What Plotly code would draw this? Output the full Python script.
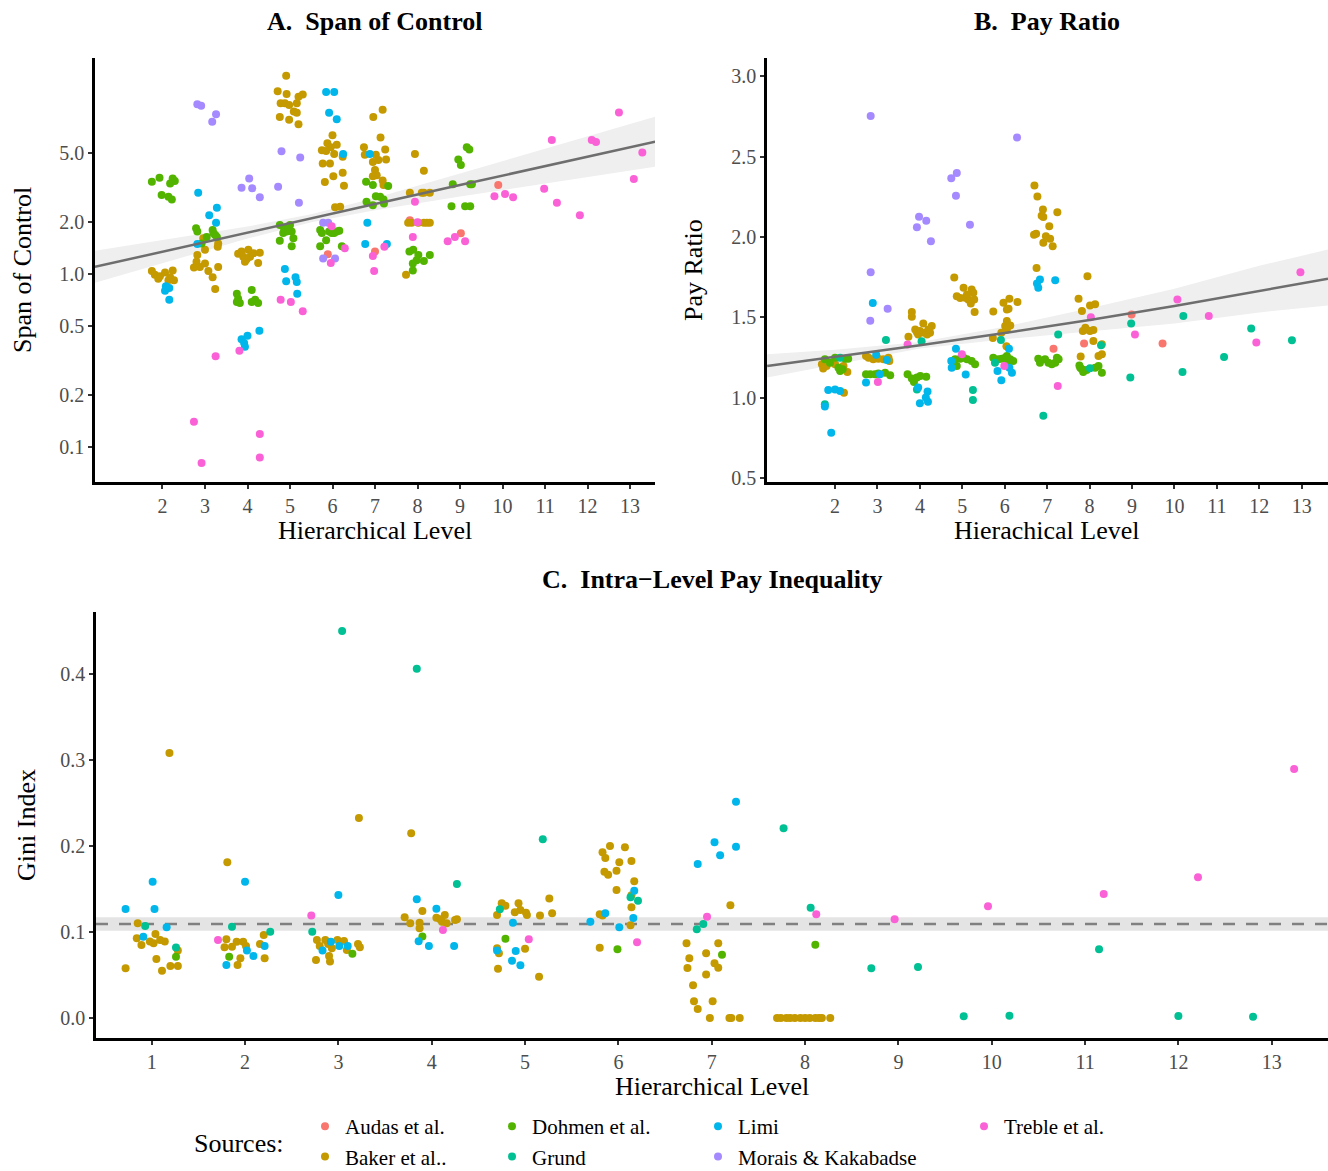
import plotly.graph_objects as go

W, H = 1328, 1171
FONT = "Liberation Serif"

SOURCES = ["Audas et al.", "Baker et al..", "Dohmen et al.", "Grund", "Limi",
           "Morais & Kakabadse", "Treble et al."]
COLORS = ["#F8766D", "#C49A00", "#53B400", "#00C094", "#00B6EB", "#A58AFF", "#FB61D7"]

# ---------------- Panel A: Span of Control ----------------
A_audas_x = [5.89, 7.00, 7.82, 9.02, 9.90]
A_audas_y = [1.30, 1.35, 2.05, 1.72, 3.27]

A_baker_x = [1.75, 1.82, 1.90, 1.94, 2.06, 2.18, 2.24, 2.27, 2.14,
             2.96, 3.00, 2.82, 2.80, 2.74, 2.88, 3.00, 3.08, 3.18, 3.24, 3.31, 3.30, 3.31,
             3.78, 3.86, 3.90, 3.94, 4.02, 4.06, 4.14, 4.25, 4.29, 3.98,
             4.91, 4.71, 4.92, 4.78, 4.88, 4.98, 5.16, 5.20, 5.30, 5.09, 5.16, 4.76, 4.98, 5.20,
             6.00, 5.88, 6.10, 5.75, 5.85, 5.96, 6.04, 6.24, 5.77, 5.94, 6.02, 5.82, 6.24, 6.27, 6.06, 6.18,
             6.96, 7.18, 7.13, 6.74, 6.76, 7.02, 7.24, 6.95, 7.08, 7.26, 7.00, 7.04, 6.95, 7.18, 7.20,
             7.94, 8.15, 7.82, 8.10, 8.15, 8.29, 7.78, 7.86, 8.02, 8.15, 8.22, 8.29, 7.73]
A_baker_y = [1.04, 0.99, 0.94, 0.97, 1.02, 0.96, 1.05, 0.92, 0.92,
             1.61, 1.38, 1.29, 1.18, 1.09, 1.10, 1.15, 1.04, 0.96, 0.82, 1.10, 1.44, 1.50,
             1.31, 1.35, 1.26, 1.18, 1.38, 1.26, 1.32, 1.16, 1.33, 1.22,
             14.0, 11.4, 11.0, 9.7, 9.7, 9.5, 9.7, 10.6, 10.9, 8.7, 8.55, 8.1, 7.8, 7.35,
             6.35, 5.7, 5.6, 5.2, 5.14, 5.4, 4.94, 4.76, 4.36, 4.36, 3.68, 3.40, 3.85, 3.24, 2.43, 2.45,
             8.1, 8.9, 6.16, 5.4, 4.9, 4.9, 5.25, 4.45, 4.57, 4.6, 3.99, 3.73, 3.68, 3.47, 3.27,
             4.94, 3.96, 2.95, 2.95, 2.95, 2.95, 1.98, 1.98, 1.98, 1.98, 1.98, 1.98, 0.99]

A_dohmen_x = [1.75, 1.93, 2.18, 2.24, 2.29, 1.98, 2.14, 2.22,
              2.79, 2.82, 2.92, 3.04, 3.18, 3.24, 3.28, 3.20,
              3.75, 3.78, 3.75, 3.82, 4.10, 4.10, 4.18, 4.25,
              4.76, 4.86, 4.96, 5.00, 5.04, 5.08, 4.76, 5.04, 4.92, 4.84,
              5.71, 5.75, 5.85, 5.71, 5.92, 6.10, 6.16, 6.22, 6.04, 5.98,
              6.79, 6.95, 7.31, 7.02, 7.12, 7.20, 7.21, 6.80, 6.95,
              7.81, 7.90, 8.02, 7.89, 7.98, 8.15, 8.29, 7.89,
              8.96, 9.02, 9.16, 9.22, 8.83, 9.24, 9.28, 8.80, 9.12, 9.24]
A_dohmen_y = [3.42, 3.60, 3.34, 3.57, 3.45, 2.86, 2.80, 2.70,
              1.84, 1.76, 1.50, 1.64, 1.80, 1.68, 1.64, 1.72,
              0.77, 0.72, 0.69, 0.68, 0.81, 0.69, 0.71, 0.68,
              1.92, 1.84, 1.80, 1.92, 1.76, 1.61, 1.56, 1.45, 1.76, 1.73,
              1.80, 1.73, 1.57, 1.45, 1.76, 1.76, 1.78, 1.45, 1.73, 1.73,
              3.42, 3.27, 3.23, 2.82, 2.80, 2.70, 2.56, 2.62, 2.50,
              1.35, 1.38, 1.29, 1.15, 1.20, 1.19, 1.29, 1.05,
              4.6, 4.27, 5.4, 5.25, 3.3, 3.3, 3.3, 2.47, 2.47, 2.47]

A_limi_x = [2.08, 2.16, 2.06, 2.16, 2.84, 3.10, 3.28, 3.26, 2.82,
            3.86, 4.00, 3.94, 3.92, 4.28, 4.88, 4.91, 5.13, 5.16, 5.17,
            5.85, 6.04, 5.92, 6.10, 6.25, 6.88, 6.82, 6.77, 7.28]
A_limi_y = [0.85, 0.83, 0.80, 0.71, 2.95, 2.19, 2.42, 1.98, 1.49,
            0.42, 0.44, 0.38, 0.40, 0.47, 1.07, 0.91, 0.96, 0.90, 0.77,
            11.3, 11.3, 8.55, 7.86, 4.94, 4.94, 1.98, 1.49, 1.49]

A_morais_x = [2.82, 2.91, 3.17, 3.26, 3.86, 4.04, 4.11, 4.29,
              4.80, 5.24, 4.72, 5.21, 5.78, 5.90, 5.78, 6.06]
A_morais_y = [9.6, 9.4, 7.6, 8.4, 3.15, 3.57, 3.13, 2.78,
              5.13, 4.72, 3.2, 2.58, 1.98, 1.98, 1.23, 1.23]

A_treble_x = [3.25, 2.74, 2.92, 3.81, 4.29, 4.29, 4.78, 5.02, 5.30, 5.98, 5.96, 6.29,
              6.95, 6.98, 7.22, 7.94, 8.00, 7.89, 8.71, 8.88, 9.12, 9.81, 10.06, 10.25,
              11.16, 10.98, 11.28, 11.82, 12.10, 12.20, 12.74, 13.09, 13.29]
A_treble_y = [0.335, 0.14, 0.081, 0.36, 0.119, 0.087, 0.71, 0.69, 0.61, 1.89, 1.16, 1.41,
              1.27, 1.04, 1.44, 2.62, 1.99, 1.64, 1.55, 1.64, 1.55, 2.82, 2.90, 2.78,
              5.95, 3.11, 2.58, 2.19, 5.95, 5.8, 8.6, 3.54, 5.05]

A_fit_x = [0.41, 2, 4, 5.5, 7, 9, 11, 13.59]
A_fit_y = [1.10, 1.349, 1.738, 2.10, 2.54, 3.27, 4.21, 5.82]
A_fit_lo = [0.891, 1.161, 1.604, 1.992, 2.34, 2.805, 3.345, 4.17]
A_fit_hi = [1.364, 1.568, 1.882, 2.215, 2.754, 3.81, 5.30, 8.11]

# ---------------- Panel B: Pay Ratio ----------------
B_audas_x = [7.15, 7.87, 8.99, 9.72]
B_audas_y = [1.304, 1.337, 1.517, 1.337]

B_baker_x = [1.69, 1.72, 1.80, 2.00, 2.12, 2.20, 2.29, 2.21,
             2.73, 2.79, 2.90, 3.02, 3.14, 3.26, 3.28,
             3.81, 3.81, 3.73, 3.89, 3.93, 4.00, 4.08, 4.10, 4.17, 4.24, 4.28, 3.96, 4.20,
             4.81, 5.03, 4.87, 4.95, 5.07, 5.14, 5.22, 5.26, 5.28, 5.20, 5.29, 5.11,
             5.73, 5.72, 5.92, 5.97, 6.11, 6.05, 6.09, 6.30, 6.05, 6.01, 6.13, 6.04, 6.05,
             6.70, 6.77, 6.90, 7.24, 6.87, 6.91, 7.05, 6.74, 6.69, 6.97, 6.91, 7.07, 7.13, 6.75,
             7.95, 7.74, 7.82, 8.01, 8.13, 7.90, 7.84, 8.01, 8.09, 8.09, 8.29, 8.21, 8.29, 7.79, 7.92]
B_baker_y = [1.207, 1.18, 1.196, 1.207, 1.186, 1.196, 1.159, 1.03,
             1.258, 1.248, 1.238, 1.242, 1.238, 1.248, 1.227,
             1.532, 1.503, 1.379, 1.424, 1.407, 1.414, 1.461, 1.404, 1.393, 1.404, 1.445, 1.393, 1.424,
             1.747, 1.683, 1.631, 1.619, 1.621, 1.611, 1.673, 1.652, 1.611, 1.586, 1.532, 1.642,
             1.536, 1.37, 1.404, 1.59, 1.615, 1.548, 1.553, 1.594, 1.476, 1.445, 1.449, 1.32, 1.424,
             2.32, 2.252, 2.17, 2.153, 2.132, 2.124, 2.066, 2.019, 2.014, 2.004, 1.963, 1.988, 1.942, 1.807,
             1.755, 1.615, 1.538, 1.573, 1.58, 1.435, 1.414, 1.414, 1.42, 1.352, 1.331, 1.258, 1.269, 1.255, 1.424]

B_dohmen_x = [1.76, 1.88, 2.00, 2.08, 2.18, 2.24, 2.31, 2.12,
              2.73, 2.83, 2.94, 3.02, 3.18, 3.30,
              3.71, 3.81, 3.86, 3.93, 4.01, 4.15, 3.85,
              4.83, 4.95, 5.03, 5.11, 5.22, 5.30, 4.87,
              5.73, 5.85, 5.93, 6.01, 6.13, 6.20, 6.05, 6.09,
              6.79, 6.83, 6.95, 7.03, 7.11, 7.19, 7.27, 7.23,
              7.76, 7.82, 7.85, 7.93, 8.13, 8.21, 8.29, 7.78]
B_dohmen_y = [1.238, 1.217, 1.248, 1.186, 1.176, 1.242, 1.242, 1.165,
              1.145, 1.145, 1.145, 1.15, 1.155, 1.138,
              1.145, 1.118, 1.097, 1.124, 1.134, 1.13, 1.114,
              1.238, 1.242, 1.248, 1.238, 1.227, 1.207, 1.196,
              1.248, 1.238, 1.242, 1.248, 1.238, 1.227, 1.258, 1.217,
              1.242, 1.217, 1.238, 1.217, 1.207, 1.217, 1.238, 1.248,
              1.2, 1.176, 1.159, 1.171, 1.186, 1.196, 1.155, 1.186]

B_grund_x = [2.12, 1.76, 3.20, 4.04, 3.93, 5.25, 5.25, 5.91, 5.77, 7.26, 6.91,
             8.27, 8.01, 8.98, 8.96, 10.21, 10.19, 11.17, 11.81, 12.77]
B_grund_y = [1.248, 0.958, 1.358, 1.35, 1.05, 1.047, 0.985, 1.358, 1.217, 1.393, 0.886,
             1.325, 1.182, 1.461, 1.124, 1.507, 1.159, 1.252, 1.43, 1.356]

B_limi_x = [1.84, 2.00, 2.12, 1.76, 1.91, 2.89, 2.97, 3.22, 2.73, 3.06,
            3.96, 4.18, 4.00, 4.19, 4.14, 4.85, 4.74, 4.75, 5.08,
            6.10, 5.83, 5.92, 6.17, 6.11, 6.83, 6.76, 6.79, 7.19]
B_limi_y = [1.047, 1.05, 1.04, 0.944, 0.78, 1.588, 1.267, 1.234, 1.093, 1.145,
            1.062, 1.037, 0.965, 0.973, 1.0, 1.304, 1.227, 1.186, 1.143,
            1.304, 1.165, 1.107, 1.155, 1.186, 1.735, 1.71, 1.683, 1.73]

B_morais_x = [2.84, 2.84, 2.83, 3.24, 3.98, 4.15, 3.93, 4.26, 4.74, 4.87, 4.85, 5.18, 6.29]
B_morais_y = [2.753, 1.78, 1.478, 1.553, 2.126, 2.10, 2.06, 1.973, 2.366, 2.398, 2.257, 2.076, 2.619]

B_treble_x = [3.01, 3.71, 4.99, 5.99, 7.25, 8.03, 9.07, 10.07, 10.81, 11.93, 12.97]
B_treble_y = [1.097, 1.33, 1.269, 1.196, 1.072, 1.50, 1.393, 1.61, 1.507, 1.342, 1.78]

B_fit_x = [0.40, 2, 4, 6, 8, 10, 12, 13.62]
B_fit_y = [1.196, 1.252, 1.325, 1.402, 1.483, 1.570, 1.661, 1.739]
B_fit_lo = [1.124, 1.207, 1.305, 1.363, 1.410, 1.461, 1.53, 1.573]
B_fit_hi = [1.269, 1.297, 1.345, 1.441, 1.556, 1.678, 1.82, 1.921]

# ---------------- Panel C: Intra-level pay inequality ----------------
C_baker_x = [1.19, 0.85, 0.84, 0.89, 0.98, 1.04, 1.02, 1.09, 1.14, 1.05, 0.72, 1.11, 1.20, 1.28, 1.28,
             1.81, 1.80, 1.78, 1.86, 1.91, 1.98, 2.01, 1.95, 1.92, 2.20, 2.16, 2.21,
             3.22, 2.77, 2.86, 2.89, 2.80, 2.93, 2.99, 3.06, 3.09, 3.21, 3.23, 2.90, 2.91, 2.76,
             3.78, 3.71, 3.77, 3.87, 3.87, 3.90, 4.05, 4.11, 4.14, 4.16, 4.25, 4.27, 4.09,
             4.75, 4.79, 4.70, 4.89, 4.93, 4.95, 5.01, 5.02, 5.16, 5.26, 5.29, 4.70, 4.72, 4.71, 5.00, 5.15,
             5.91, 5.83, 6.07, 5.86, 6.01, 6.14, 5.85, 5.89, 5.98, 5.98, 6.17, 6.14, 6.14, 5.80, 5.83, 6.13, 5.80,
             7.20, 6.73, 7.07, 6.94, 6.76, 6.74, 7.03, 7.07, 6.94, 6.80, 6.81, 7.01, 6.85, 6.98, 7.19, 7.21, 7.30,
             7.70, 7.74, 7.80, 7.84, 7.89, 7.95, 8.00, 8.05, 8.11, 8.15, 8.18, 8.27]
C_baker_y = [0.308, 0.110, 0.0927, 0.0849, 0.0888, 0.0977, 0.0868, 0.0907, 0.0888, 0.0686, 0.0578, 0.055, 0.0605, 0.0605, 0.0783,
             0.181, 0.0915, 0.0822, 0.0829, 0.0887, 0.0887, 0.0837, 0.0694, 0.0616, 0.0965, 0.086, 0.0694,
             0.2326, 0.0907, 0.0907, 0.086, 0.0837, 0.081, 0.0907, 0.0895, 0.0791, 0.086, 0.0822, 0.0721, 0.0655, 0.0674,
             0.2147, 0.117, 0.110, 0.1108, 0.1043, 0.1244, 0.1166, 0.112, 0.1198, 0.110, 0.114, 0.1147, 0.1147,
             0.1334, 0.1306, 0.1198, 0.1229, 0.1334, 0.1256, 0.1224, 0.1198, 0.119, 0.139, 0.1217, 0.081, 0.0752, 0.0573, 0.0806, 0.048,
             0.2, 0.1926, 0.1985, 0.186, 0.181, 0.1826, 0.1701, 0.1666, 0.1713, 0.1488, 0.1589, 0.1428, 0.1288, 0.1206, 0.119, 0.1078, 0.0817,
             0.131, 0.0869, 0.0869, 0.0752, 0.0694, 0.0581, 0.0636, 0.0585, 0.0504, 0.038, 0.0194, 0.0194, 0.0105, 0, 0, 0, 0,
             0, 0, 0, 0, 0, 0, 0, 0, 0, 0, 0, 0]

C_dohmen_x = [1.26, 1.83, 3.15, 3.90, 4.79, 5.99, 7.11, 8.11]
C_dohmen_y = [0.0713, 0.0713, 0.0748, 0.0946, 0.0922, 0.0799, 0.0736, 0.0852]

C_grund_x = [0.93, 1.26, 1.86, 2.27, 2.72, 3.04, 4.27, 3.84, 4.73, 5.19, 6.13, 6.21,
             6.91, 6.84, 7.77, 8.06, 8.71, 9.21, 9.70, 10.19, 11.15, 12.00, 12.80]
C_grund_y = [0.107, 0.0818, 0.106, 0.1003, 0.1003, 0.45, 0.1558, 0.406, 0.1264, 0.2078, 0.1403, 0.1364,
             0.1093, 0.1031, 0.2205, 0.128, 0.0578, 0.0593, 0.002, 0.0027, 0.0799, 0.0023, 0.0015]

C_limi_x = [0.72, 1.01, 1.03, 0.91, 1.16, 2.00, 1.80, 2.02, 2.09, 2.21,
            3.00, 2.92, 2.83, 3.01, 3.10, 3.84, 4.05, 3.86, 3.97, 4.24,
            4.87, 4.70, 4.90, 4.86, 4.95, 5.70, 5.86, 6.01, 6.17, 6.16,
            7.26, 7.03, 7.09, 7.26, 6.85]
C_limi_y = [0.1267, 0.1585, 0.1267, 0.0945, 0.1055, 0.1585, 0.0616, 0.0783, 0.0721, 0.0837,
            0.143, 0.0887, 0.0783, 0.0837, 0.0837, 0.138, 0.127, 0.0892, 0.0837, 0.0837,
            0.1108, 0.0783, 0.0779, 0.0666, 0.0613, 0.112, 0.1217, 0.1055, 0.148, 0.1163,
            0.2515, 0.2043, 0.1892, 0.1992, 0.1791]

C_treble_x = [1.71, 2.71, 4.12, 5.04, 6.20, 6.95, 8.12, 8.96, 9.96, 11.20, 12.21, 13.24]
C_treble_y = [0.0907, 0.119, 0.1023, 0.0915, 0.088, 0.1178, 0.1205, 0.1148, 0.130, 0.144, 0.1636, 0.2895]

C_mean = 0.1093
C_mean_lo = 0.1015
C_mean_hi = 0.117

# ---------------- Tick labels ----------------
A_yticks = [0.1, 0.2, 0.5, 1, 2, 5]
A_yticklabels = ["0.1", "0.2", "0.5", "1.0", "2.0", "5.0"]
AB_xticks = list(range(2, 14))
B_yticks = [0.5, 1.0, 1.5, 2.0, 2.5, 3.0]
C_xticks = list(range(1, 14))
C_yticks = [0.0, 0.1, 0.2, 0.3, 0.4]

panel_A = {0: (A_audas_x, A_audas_y), 1: (A_baker_x, A_baker_y), 2: (A_dohmen_x, A_dohmen_y),
           4: (A_limi_x, A_limi_y), 5: (A_morais_x, A_morais_y), 6: (A_treble_x, A_treble_y)}
panel_B = {0: (B_audas_x, B_audas_y), 1: (B_baker_x, B_baker_y), 2: (B_dohmen_x, B_dohmen_y),
           3: (B_grund_x, B_grund_y), 4: (B_limi_x, B_limi_y), 5: (B_morais_x, B_morais_y),
           6: (B_treble_x, B_treble_y)}
panel_C = {1: (C_baker_x, C_baker_y), 2: (C_dohmen_x, C_dohmen_y), 3: (C_grund_x, C_grund_y),
           4: (C_limi_x, C_limi_y), 6: (C_treble_x, C_treble_y)}

LEGEND_OF = {0: "legend", 1: "legend", 2: "legend2", 3: "legend2", 4: "legend3", 5: "legend3", 6: "legend4"}

fig = go.Figure()

BAND = "#efefef"
FITLINE = dict(color="#6e6e6e", width=2.5)

# confidence bands (under points)
fig.add_trace(go.Scatter(x=A_fit_x + A_fit_x[::-1], y=A_fit_hi + A_fit_lo[::-1], fill="toself",
                         fillcolor=BAND, line=dict(width=0), mode="lines", hoverinfo="skip",
                         showlegend=False, xaxis="x", yaxis="y"))
fig.add_trace(go.Scatter(x=B_fit_x + B_fit_x[::-1], y=B_fit_hi + B_fit_lo[::-1], fill="toself",
                         fillcolor=BAND, line=dict(width=0), mode="lines", hoverinfo="skip",
                         showlegend=False, xaxis="x2", yaxis="y2"))

shown = set()
for panel, xa, ya in [(panel_A, "x", "y"), (panel_B, "x2", "y2"), (panel_C, "x3", "y3")]:
    for i in range(len(SOURCES)):
        if i not in panel:
            continue
        xs, ys = panel[i]
        fig.add_trace(go.Scatter(
            x=xs, y=ys, mode="markers", name=SOURCES[i],
            marker=dict(color=COLORS[i], size=8, line=dict(width=0)),
            legendgroup=SOURCES[i], legend=LEGEND_OF[i],
            showlegend=(i not in shown), xaxis=xa, yaxis=ya))
        shown.add(i)

# fitted lines on top
fig.add_trace(go.Scatter(x=A_fit_x, y=A_fit_y, mode="lines", line=FITLINE, hoverinfo="skip",
                         showlegend=False, xaxis="x", yaxis="y"))
fig.add_trace(go.Scatter(x=B_fit_x, y=B_fit_y, mode="lines", line=FITLINE, hoverinfo="skip",
                         showlegend=False, xaxis="x2", yaxis="y2"))

def px2x(p):
    return p / W

def py2y(p):
    return 1 - p / H

tickfont = dict(family=FONT, size=20, color="#4d4d4d")
axis_common = dict(showline=True, linecolor="black", linewidth=2.5, showgrid=False, zeroline=False,
                   ticks="outside", ticklen=4, tickwidth=2, tickcolor="#333333", tickfont=tickfont,
                   mirror=False)

fig.update_layout(
    width=W, height=H, autosize=False, margin=dict(l=0, r=0, t=0, b=0, autoexpand=False),
    paper_bgcolor="white", plot_bgcolor="white",
    font=dict(family=FONT, color="black"),
    xaxis=dict(domain=[px2x(95), px2x(655)], range=[0.412, 13.588], tickvals=AB_xticks,
               anchor="y", **axis_common),
    yaxis=dict(domain=[py2y(482), py2y(58)], type="log", range=[-1.202, 1.249],
               tickvals=A_yticks, ticktext=A_yticklabels, anchor="x", **axis_common),
    xaxis2=dict(domain=[px2x(767), 1.0], range=[0.396, 13.62], tickvals=AB_xticks,
                anchor="y2", **axis_common),
    yaxis2=dict(domain=[py2y(482), py2y(58)], range=[0.474, 3.114], tickvals=B_yticks,
                tickformat=".1f", anchor="x2", **axis_common),
    xaxis3=dict(domain=[px2x(96), 1.0], range=[0.403, 13.603], tickvals=C_xticks,
                anchor="y3", **axis_common),
    yaxis3=dict(domain=[py2y(1038), py2y(612)], range=[-0.0233, 0.472], tickvals=C_yticks,
                tickformat=".1f", anchor="x3", **axis_common),
    shapes=[
        dict(type="rect", xref="x3 domain", x0=0, x1=1, yref="y3", y0=C_mean_lo, y1=C_mean_hi,
             fillcolor="#e4e4e4", line=dict(width=0), layer="below"),
        dict(type="line", xref="x3 domain", x0=0, x1=1, yref="y3", y0=C_mean, y1=C_mean,
             line=dict(color="#808080", width=2.5, dash="12px,11px"), layer="below"),
    ],
)

legend_common = dict(orientation="v", xanchor="left", yanchor="top", bgcolor="rgba(0,0,0,0)",
                     font=dict(family=FONT, size=21, color="black"), tracegroupgap=0,
                     itemclick=False, itemdoubleclick=False)
LEG_TOP = 1106
fig.update_layout(
    legend=dict(x=px2x(345 - 40), y=py2y(LEG_TOP), **legend_common),
    legend2=dict(x=px2x(532 - 40), y=py2y(LEG_TOP), **legend_common),
    legend3=dict(x=px2x(738 - 40), y=py2y(LEG_TOP), **legend_common),
    legend4=dict(x=px2x(1004 - 40), y=py2y(LEG_TOP), **legend_common),
)

def ann(text, x, y, size, bold=False, angle=0):
    return dict(text=("<b>%s</b>" % text) if bold else text, x=px2x(x), y=py2y(y),
                xref="paper", yref="paper", showarrow=False, xanchor="center", yanchor="middle",
                textangle=angle, font=dict(family=FONT, size=size, color="black"))

fig.update_layout(annotations=[
    ann("A.\u00a0 Span of Control", 375, 22, 26, bold=True),
    ann("B.\u00a0 Pay Ratio", 1047, 22, 26, bold=True),
    ann("C.\u00a0 Intra\u2212Level Pay Inequality", 712, 579, 26, bold=True),
    ann("Hierarchical Level", 375, 530, 26),
    ann("Hierachical Level", 1047, 530, 26),
    ann("Hierarchical Level", 712, 1086, 26),
    ann("Span of Control", 22, 270, 26, angle=-90),
    ann("Pay Ratio", 693, 270, 26, angle=-90),
    ann("Gini Index", 26, 825, 26, angle=-90),
    ann("Sources:", 239, 1143, 26),
])

fig.write_html("out.html",
               config={"responsive": False, "displayModeBar": False},
               post_script="document.body.style.margin='0';document.body.style.padding='0';")
